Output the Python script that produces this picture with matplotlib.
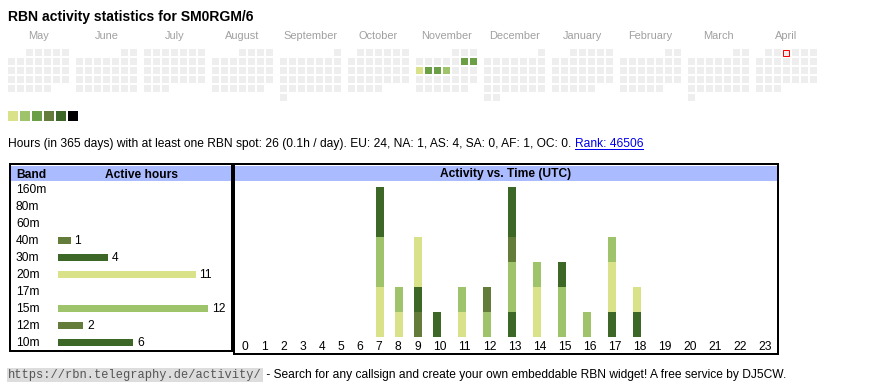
import datetime as dt
import calendar
import matplotlib
matplotlib.use("Agg")
import matplotlib.pyplot as plt
from matplotlib.patches import Rectangle
from matplotlib.lines import Line2D

# ---------------- data ----------------
title = "RBN activity statistics for SM0RGM/6"
month_names = ["May", "June", "July", "August", "September", "October",
               "November", "December", "January", "February", "March", "April"]
month_years = [2024, 2024, 2024, 2024, 2024, 2024, 2024, 2024, 2025, 2025, 2025, 2025]
month_numbers = [5, 6, 7, 8, 9, 10, 11, 12, 1, 2, 3, 4]
active_days = ["2024-11-09", "2024-11-10", "2024-11-11", "2024-11-12", "2024-11-13", "2024-11-14"]
active_levels = [3, 3, 1, 3, 3, 2]
today = "2025-04-03"
level_colors = ["#d9e189", "#9ec36a", "#6a9f45", "#647c3a", "#3d6727", "#000000"]

summary_text = ("Hours (in 365 days) with at least one RBN spot: 26 (0.1h / day). "
                "EU: 24, NA: 1, AS: 4, SA: 0, AF: 1, OC: 0. ")
rank_text = "Rank: 46506"

bands = ["160m", "80m", "60m", "40m", "30m", "20m", "17m", "15m", "12m", "10m"]
band_hours = [0, 0, 0, 1, 4, 11, 0, 12, 2, 6]
band_colors = ["#d9e189", "#9ec36a", "#6a9f45", "#647c3a", "#3d6727",
               "#d9e189", "#6a9f45", "#9ec36a", "#647c3a", "#3d6727"]

hour_labels = [str(h) for h in range(24)]
#            0  1  2  3  4  5  6  7  8  9 10 11 12 13 14 15 16 17 18 19 20 21 22 23
act_160m = [0, 0, 0, 0, 0, 0, 0, 0, 0, 0, 0, 0, 0, 0, 0, 0, 0, 0, 0, 0, 0, 0, 0, 0]
act_80m  = [0, 0, 0, 0, 0, 0, 0, 0, 0, 0, 0, 0, 0, 0, 0, 0, 0, 0, 0, 0, 0, 0, 0, 0]
act_60m  = [0, 0, 0, 0, 0, 0, 0, 0, 0, 0, 0, 0, 0, 0, 0, 0, 0, 0, 0, 0, 0, 0, 0, 0]
act_40m  = [0, 0, 0, 0, 0, 0, 0, 0, 0, 1, 0, 0, 0, 0, 0, 0, 0, 0, 0, 0, 0, 0, 0, 0]
act_30m  = [0, 0, 0, 0, 0, 0, 0, 0, 0, 1, 0, 0, 0, 1, 0, 0, 0, 1, 1, 0, 0, 0, 0, 0]
act_20m  = [0, 0, 0, 0, 0, 0, 0, 2, 1, 2, 0, 1, 0, 0, 2, 0, 0, 2, 1, 0, 0, 0, 0, 0]
act_17m  = [0, 0, 0, 0, 0, 0, 0, 0, 0, 0, 0, 0, 0, 0, 0, 0, 0, 0, 0, 0, 0, 0, 0, 0]
act_15m  = [0, 0, 0, 0, 0, 0, 0, 2, 1, 0, 0, 1, 1, 2, 1, 2, 1, 1, 0, 0, 0, 0, 0, 0]
act_12m  = [0, 0, 0, 0, 0, 0, 0, 0, 0, 0, 0, 0, 1, 1, 0, 0, 0, 0, 0, 0, 0, 0, 0, 0]
act_10m  = [0, 0, 0, 0, 0, 0, 0, 2, 0, 0, 1, 0, 0, 2, 0, 1, 0, 0, 0, 0, 0, 0, 0, 0]
hourly = [act_160m, act_80m, act_60m, act_40m, act_30m, act_20m, act_17m, act_15m, act_12m, act_10m]

footer_url = "https://rbn.telegraphy.de/activity/"
footer_text = " - Search for any callsign and create your own embeddable RBN widget! A free service by DJ5CW."

# ---------------- layout ----------------
W, H, DPI = 870, 390, 100
PT = 72.0 / DPI
SANS = ["Liberation Sans", "DejaVu Sans"]
MONO = ["Liberation Mono", "DejaVu Sans Mono"]
HEADER_BG = "#aabbff"
EMPTY = "#eeeeee"

fig = plt.figure(figsize=(W / DPI, H / DPI), dpi=DPI)
fig.patch.set_facecolor("white")

def px_axes(x0, y0, x1, y1, **kw):
    return fig.add_axes([x0 / W, 1 - y1 / H, (x1 - x0) / W, (y1 - y0) / H], **kw)

bg = px_axes(0, 0, W, H)
bg.set_xlim(0, W)
bg.set_ylim(H, 0)
bg.axis("off")

# title
bg.text(8, 21, title, fontsize=14 * PT, fontweight="bold", family=SANS, va="baseline", ha="left")

# calendar
cal_x0, cal_y0, cell, pitch, block = 8, 49, 7, 9, 68
active_map = {dt.date.fromisoformat(d): lv for d, lv in zip(active_days, active_levels)}
today_d = dt.date.fromisoformat(today)
for bi, (name, yr, mo) in enumerate(zip(month_names, month_years, month_numbers)):
    bx = cal_x0 + block * bi
    bg.text(bx + (7 * pitch - 2) / 2, 39, name, fontsize=11 * PT, color="#a0a0a0",
            family=SANS, ha="center", va="baseline")
    first_wd = dt.date(yr, mo, 1).weekday()
    ndays = calendar.monthrange(yr, mo)[1]
    for day in range(1, ndays + 1):
        d = dt.date(yr, mo, day)
        col = d.weekday()
        row = (day - 1 + first_wd) // 7
        lv = active_map.get(d)
        fc = level_colors[lv - 1] if lv else EMPTY
        x, y = bx + col * pitch, cal_y0 + row * pitch
        if d == today_d:
            bg.add_patch(Rectangle((x + 0.5, y + 0.5), cell - 1, cell - 1, facecolor=fc,
                                   edgecolor="#ff0000", linewidth=1 * PT))
        else:
            bg.add_patch(Rectangle((x, y), cell, cell, facecolor=fc, edgecolor="none"))

# legend squares
for i, c in enumerate(level_colors):
    bg.add_patch(Rectangle((8 + 12 * i, 111), 10, 10, facecolor=c, edgecolor="none"))

# summary line
t1 = bg.text(8, 147, summary_text, fontsize=12 * PT, family=SANS, va="baseline", ha="left")
fig.canvas.draw()
r = fig.canvas.get_renderer()
bb = t1.get_window_extent(r)
rx = bb.x1
t2 = bg.text(rx, 147, rank_text, fontsize=12 * PT, family=SANS, va="baseline", ha="left",
             color="#0000ee")
bb2 = t2.get_window_extent(r)
bg.add_line(Line2D([rx, bb2.x1], [148.5, 148.5], color="#0000ee", linewidth=1 * PT))

# boxes
LW = 2 * PT
bg.add_patch(Rectangle((10.7, 166), 220, 14.7, facecolor=HEADER_BG, edgecolor="none"))
bg.add_patch(Rectangle((235.3, 166), 542, 14.7, facecolor=HEADER_BG, edgecolor="none"))
bg.add_patch(Rectangle((9.7, 164.3), 222, 186.7, facecolor="none", edgecolor="black", linewidth=LW))
bg.add_patch(Rectangle((234.3, 164.3), 544, 189.4, facecolor="none", edgecolor="black", linewidth=LW))
bg.text(16, 177.5, "Band", fontsize=12 * PT, fontweight="bold", family=SANS, va="baseline")
bg.text(141.5, 177.5, "Active hours", fontsize=12 * PT, fontweight="bold", family=SANS,
        va="baseline", ha="center")
bg.text(506, 177.5, "Activity vs. Time (UTC)", fontsize=12 * PT, fontweight="bold",
        family=SANS, va="baseline", ha="center")

# band chart (row pitch 17 px, 12.5 px per hour, zero at x=58)
row0, rpitch, hx0, hscale = 189.3, 17, 58, 12.5
ax_b = px_axes(10.7, 181, 230.7, 350)
ax_b.set_xlim((10.7 - hx0) / hscale, (230.7 - hx0) / hscale)
ax_b.set_ylim((350 - row0) / rpitch, (181 - row0) / rpitch)
ax_b.axis("off")
ax_b.patch.set_alpha(0)
idx = list(range(len(bands)))
ax_b.barh(idx, band_hours, height=7 / rpitch, color=band_colors, linewidth=0)
lab_x = (16 - hx0) / hscale
for i, (b, h) in enumerate(zip(bands, band_hours)):
    ax_b.text(lab_x, i + 4 / rpitch, b, fontsize=12 * PT, family=SANS, va="baseline", ha="left")
    if h:
        ax_b.text(h + 4 / hscale, i + 4 / rpitch, str(h), fontsize=12 * PT, family=SANS,
                  va="baseline", ha="left")

# time chart: HTML-like columns, width grows with label length, filling the box
inner_x0, inner_x1 = 235.3, 777.3
raw_w = [13.15 + 5.85 * len(s) for s in hour_labels]
scale = (inner_x1 - inner_x0) / sum(raw_w)
widths = [w * scale for w in raw_w]
lefts = [sum(widths[:i]) for i in range(len(widths))]
pad = 6.4
bar_w = 8
unit = 25
base_y, top_y = 336.7, 181
ax_t = px_axes(inner_x0, top_y, inner_x1, base_y)
ax_t.set_xlim(0, inner_x1 - inner_x0)
ax_t.set_ylim(0, (base_y - top_y) / unit)
ax_t.axis("off")
ax_t.patch.set_alpha(0)
xs = [l + pad for l in lefts]
bottom = [0] * 24
for series, c in zip(hourly, band_colors):
    ax_t.bar(xs, series, width=bar_w, bottom=bottom, align="edge", color=c, linewidth=0)
    bottom = [b + s for b, s in zip(bottom, series)]
for x, lab in zip(xs, hour_labels):
    ax_t.text(x, -(350.5 - base_y) / unit, lab, fontsize=12 * PT, family=SANS,
              va="baseline", ha="left", clip_on=False)

# footer
tu = bg.text(8, 378, footer_url, fontsize=12 * PT, family=MONO, color="#555555",
             va="baseline", ha="left")
fig.canvas.draw()
bu = tu.get_window_extent(r)
bg.add_patch(Rectangle((bu.x0 - 1, 367.5), bu.x1 - bu.x0 + 2, 14, facecolor="#dddddd",
                       edgecolor="none", zorder=0))
bg.text(bu.x1 + 1, 378, footer_text, fontsize=12 * PT, family=SANS, va="baseline", ha="left")

fig.savefig("out.png", dpi=DPI, facecolor="white")
